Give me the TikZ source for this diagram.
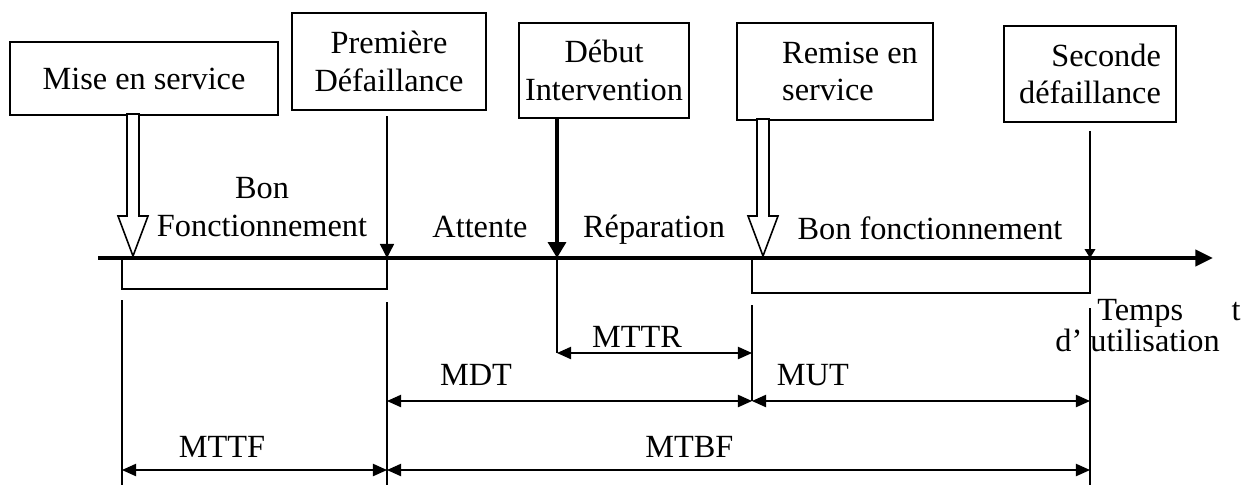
\documentclass[tikz,border=0pt]{standalone}
\usepackage{fontspec}
\setmainfont{Liberation Serif}
\usetikzlibrary{arrows.meta}
\tikzset{
  event/.style={draw, line width=1pt, align=center, inner sep=0pt},
  phase/.style={inner sep=0pt, align=center},
  guide/.style={line width=0.6pt},
  span/.style={line width=0.7pt, {Triangle[length=8pt,width=7pt]}-{Triangle[length=8pt,width=7pt]}},
  spanlabel/.style={inner sep=0pt},
}
% hollow block arrow: x, top of shaft, tip
\def\hollowarrow(#1,#2,#3){\draw[line width=0.9pt, fill=white] (#1-6,#2) -- (#1-6,#3-40) -- (#1-15,#3-40) -- (#1,#3) -- (#1+15,#3-40) -- (#1+6,#3-40) -- (#1+6,#2) -- cycle;}

\begin{document}
\begin{tikzpicture}[x=0.02cm, y=-0.02cm, every node/.style={font=\fontsize{18.4}{21.5}\selectfont}]
			%%%%% START %%%%%
			\useasboundingbox (0,0) rectangle (1248,485);
			
			% events
			\node[event, minimum width=5.36cm, minimum height=1.46cm] (b1) at (144,78.5) {Mise en service};
			\node[event, minimum width=3.88cm, minimum height=1.94cm] (b2) at (389,61.5) {Première\\Défaillance};
			\node[event, minimum width=3.4cm, minimum height=1.9cm] (b3) at (604,70.5) {Début\\Intervention};
			\node[event, minimum width=3.92cm, minimum height=1.94cm, align=left] (b4) at (835,71.5) {\hspace*{0.6cm}Remise en\\\hspace*{0.6cm}service};
			\node[event, minimum width=3.44cm, minimum height=1.92cm, align=right] (b5) at (1090,74) {Seconde\\défaillance};
			
			% instants on the time axis
			\coordinate (o) at (98,258);
			\coordinate (tend) at (1213,258);
			\coordinate (t0) at (133,258);
			\coordinate (d0) at (122,258);
			\coordinate (t1) at (387,258);
			\coordinate (t2) at (557,258);
			\coordinate (t3) at (763,258);
			\coordinate (d3) at (752,258);
			\coordinate (t4) at (1090,258);
			
			\hollowarrow(133,114,256)
			\hollowarrow(763,119,256)
			\draw[line width=0.8pt, -{Triangle[length=8pt,width=8pt]}, shorten <=3pt] (b2.south -| t1) -- (t1);
			\draw[line width=2.4pt, -{Triangle[length=9pt,width=10pt]}] (b3.south -| t2) -- (t2);
			\draw[line width=0.7pt, -{Triangle[length=5pt,width=6pt]}, shorten <=4.5pt] (b5.south -| t4) -- (t4);
			
			\node[phase, anchor=south] (bon1) at (262,237) {Bon\\Fonctionnement};
			\node[phase, anchor=base] (att) at (480,237) {Attente};
			\node[phase, anchor=base] (rep) at (654,237) {Réparation};
			\node[phase, anchor=base] (bon2) at (930,239) {Bon fonctionnement};
			
			% up-time bars
			\draw[line width=0.8pt] (d0) rectangle ++(265,31);
			\draw[line width=0.8pt] (d3) rectangle ++(338,35);
			
			\draw[line width=2.3pt, -{Triangle[length=10pt,width=9pt]}] (o) -- (tend);
			
			\node[anchor=base west, inner sep=0pt] (tps) at (1097,320) {Temps\hspace{1.5em}t};
			\node[anchor=base west, inner sep=0pt] (util) at (1055,351) {d’ utilisation};
			
			% guides
			\draw[guide] (122,300) -- (122,485);
			\draw[guide] (387,302) -- (387,485);
			\draw[guide] (t2) -- (557,353);
			\draw[guide] (752,305) -- (752,401);
			\draw[guide] (1090,308) -- (1090,485);
			
			\coordinate (mttrA) at (557,353);
			\coordinate (mttrB) at (752,353);
			\coordinate (mdtA) at (387,401);
			\coordinate (mdtB) at (752,401);
			\coordinate (mutB) at (1090,401);
			\coordinate (mttfA) at (122,470);
			\coordinate (mttfB) at (387,470);
			\coordinate (mtbfB) at (1090,470);
			
			\draw[span] (mttrA) -- node[spanlabel, pos=.41, above=3pt] (lmttr) {MTTR} (mttrB);
			\draw[span] (mdtA) -- node[spanlabel, pos=.244, above=8.5pt] (lmdt) {MDT} (mdtB);
			\draw[span] (mdtB) -- node[spanlabel, pos=.18, above=8.5pt] (lmut) {MUT} (mutB);
			\draw[span] (mttfA) -- node[spanlabel, pos=.377, above=7pt] (lmttf) {MTTF} (mttfB);
			\draw[span] (mttfB) -- node[spanlabel, pos=.43, above=6.5pt] (lmtbf) {MTBF} (mtbfB);
			
			%%%%% END %%%%%
\end{tikzpicture}
\end{document}
